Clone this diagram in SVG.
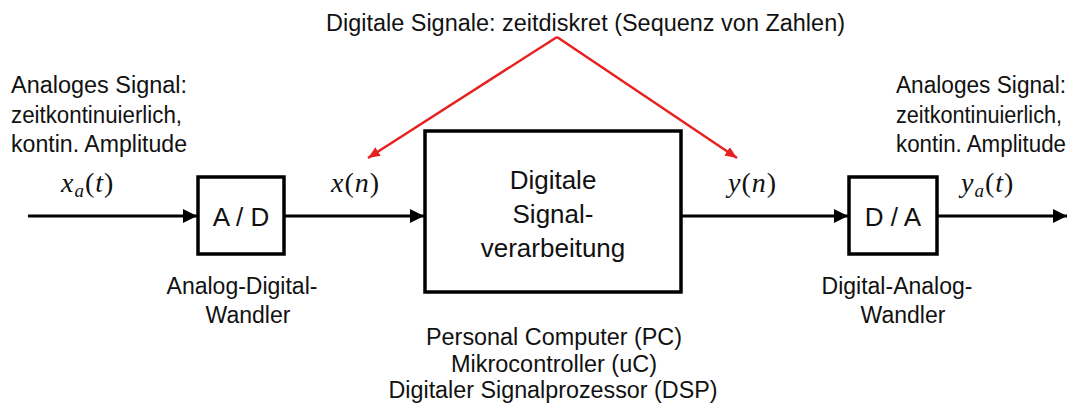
<svg xmlns="http://www.w3.org/2000/svg" width="1078" height="406" viewBox="0 0 1078 406">
<style>
.t{font-family:"Liberation Sans",Arial,sans-serif;font-size:23px;fill:#111}
.b{font-family:"Liberation Sans",Arial,sans-serif;font-size:26px;fill:#111}
.m{font-family:"Liberation Serif","Times New Roman",serif;font-size:28px;fill:#111;letter-spacing:1px}
.box{fill:#fff;stroke:#000;stroke-width:3.5}
.wire{stroke:#000;stroke-width:3;fill:none}
.red{stroke:#e82020;stroke-width:2.5;fill:none}
</style>
<defs>
<marker id="ah" markerUnits="userSpaceOnUse" markerWidth="15" markerHeight="15" refX="14" refY="7" orient="auto"><path d="M0,0 L14,7 L0,14 z" fill="#000"/></marker>
<marker id="rh" markerUnits="userSpaceOnUse" markerWidth="13" markerHeight="11" refX="12" refY="5" orient="auto"><path d="M0,0 L12,5 L0,10 z" fill="#e82020"/></marker>
</defs>
<rect width="1078" height="406" fill="#fff"/>
<g id="connectors">
<line class="wire" x1="28" y1="216" x2="197" y2="216" marker-end="url(#ah)"/>
<line class="wire" x1="284" y1="216" x2="424" y2="216" marker-end="url(#ah)"/>
<line class="wire" x1="681" y1="216" x2="848" y2="216" marker-end="url(#ah)"/>
<line class="wire" x1="937" y1="216" x2="1067" y2="216" marker-end="url(#ah)"/>
<line class="red" x1="557" y1="37" x2="368" y2="158" marker-end="url(#rh)"/>
<line class="red" x1="557" y1="37" x2="737" y2="158" marker-end="url(#rh)"/>
</g>
<g id="ad">
<rect class="box" x="198" y="177" width="86" height="77"/>
<text class="b" x="241" y="226" text-anchor="middle" font-size="25">A / D</text>
</g>
<g id="dsp">
<rect class="box" x="425" y="131" width="256" height="161"/>
<text class="b" x="553" y="189" text-anchor="middle">Digitale</text>
<text class="b" x="553" y="223" text-anchor="middle">Signal-</text>
<text class="b" x="553" y="257" text-anchor="middle">verarbeitung</text>
</g>
<g id="da">
<rect class="box" x="849" y="177" width="88" height="77"/>
<text class="b" x="893" y="226" text-anchor="middle" font-size="25">D / A</text>
</g>
<g id="labels">
<text class="t" x="326" y="31" textLength="519" lengthAdjust="spacingAndGlyphs">Digitale Signale: zeitdiskret (Sequenz von Zahlen)</text>
<text class="t" x="11" y="93" textLength="176" lengthAdjust="spacingAndGlyphs">Analoges Signal:</text>
<text class="t" x="11" y="123" textLength="171" lengthAdjust="spacingAndGlyphs">zeitkontinuierlich,</text>
<text class="t" x="11" y="152" textLength="176" lengthAdjust="spacingAndGlyphs">kontin. Amplitude</text>
<text class="t" x="896" y="93" textLength="170" lengthAdjust="spacingAndGlyphs">Analoges Signal:</text>
<text class="t" x="896" y="123" textLength="166" lengthAdjust="spacingAndGlyphs">zeitkontinuierlich,</text>
<text class="t" x="896" y="152" textLength="170" lengthAdjust="spacingAndGlyphs">kontin. Amplitude</text>
<text class="t" x="242" y="294" text-anchor="middle">Analog-Digital-</text>
<text class="t" x="248" y="323" text-anchor="middle">Wandler</text>
<text class="t" x="897" y="294" text-anchor="middle">Digital-Analog-</text>
<text class="t" x="903" y="323" text-anchor="middle">Wandler</text>
<text class="t" x="554" y="345" text-anchor="middle" textLength="256" lengthAdjust="spacingAndGlyphs">Personal Computer (PC)</text>
<text class="t" x="554" y="372" text-anchor="middle" textLength="206" lengthAdjust="spacingAndGlyphs">Mikrocontroller (uC)</text>
<text class="t" x="553" y="398" text-anchor="middle" textLength="329" lengthAdjust="spacingAndGlyphs">Digitaler Signalprozessor (DSP)</text>
<text class="m" x="61" y="192"><tspan font-style="italic">x</tspan><tspan font-style="italic" font-size="19" dy="5">a</tspan><tspan dy="-5">(</tspan><tspan font-style="italic">t</tspan>)</text>
<text class="m" x="331" y="192"><tspan font-style="italic">x</tspan>(<tspan font-style="italic">n</tspan>)</text>
<text class="m" x="728" y="192"><tspan font-style="italic">y</tspan>(<tspan font-style="italic">n</tspan>)</text>
<text class="m" x="961" y="192"><tspan font-style="italic">y</tspan><tspan font-style="italic" font-size="19" dy="5">a</tspan><tspan dy="-5">(</tspan><tspan font-style="italic">t</tspan>)</text>
</g>
</svg>
